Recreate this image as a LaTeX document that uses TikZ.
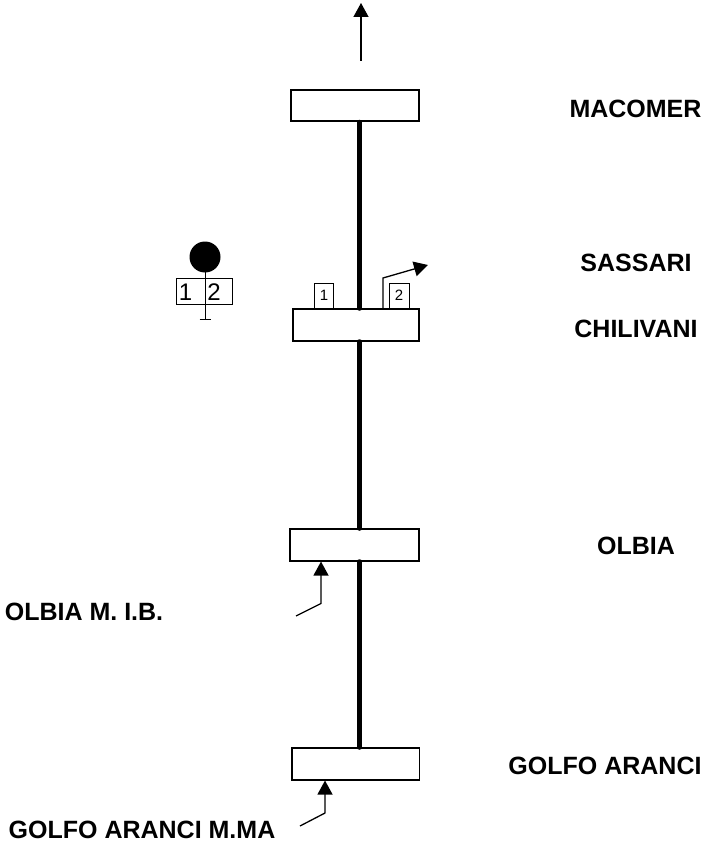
\documentclass[tikz,border=0pt]{standalone}
\usepackage{fontspec}
\setmainfont{Liberation Sans}
\usetikzlibrary{arrows.meta}
\tikzset{
  station/.style={draw,line width=1.6pt,fill=white,inner sep=0pt,minimum height=31.5pt},
  track/.style={line width=4.6pt,line cap=round},
  feed/.style={line width=1.3pt,-{Triangle[length=14pt,width=15pt]}},
  placelabel/.style={font=\bfseries\fontsize{25}{28}\selectfont,inner sep=0pt,anchor=base},
  tagbox/.style={draw,line width=.6pt,fill=white,inner sep=0pt,minimum width=19pt,minimum height=25pt,font=\fontsize{15}{17}\selectfont},
  sigbox/.style={draw,line width=.6pt,inner sep=0pt,minimum width=56.5pt,minimum height=26pt},
  sigdigit/.style={inner sep=0pt,font=\fontsize{24}{27}\selectfont}
}
\begin{document}
\begin{tikzpicture}[x=1pt,y=-1pt]
\useasboundingbox (0,0) rectangle (704,842);
\node[station,minimum width=128pt] (mac) at (355,105.5) {};
\node[station,minimum width=126.5pt] (chi) at (356,325) {};
\node[station,minimum width=129pt] (olb) at (354.5,545) {};
\node[station,minimum width=127.5pt] (gol) at (355.75,764) {};
\draw[track] ([xshift=4.5pt]mac.south) -- ([xshift=3.5pt]chi.north);
\draw[track] ([xshift=3.5pt]chi.south) -- ([xshift=5pt]olb.north);
\draw[track] ([xshift=5pt]olb.south) -- ([xshift=3.75pt]gol.north);
\coordinate (topa) at (361,61);
\coordinate (topb) at (361,3);
\draw[feed] (topa) -- (topb);
\node[tagbox,minimum width=18.5pt] (t1) at (324,295.5) {1};
\node[tagbox,minimum width=20pt] (t2) at (399,295.5) {2};
\coordinate (bra) at (383,278);
\coordinate (brb) at (428,265);
\draw[feed] (chi.north -| bra) -- (bra) -- (brb);
\coordinate (oa) at (296,616);
\coordinate (ob) at (321,603.5);
\draw[feed] (oa) -- (ob) -- (ob |- olb.south);
\coordinate (ga) at (300,826);
\coordinate (gb) at (325,813);
\draw[feed] (ga) -- (gb) -- (gb |- gol.south);
\node[circle,fill=black,inner sep=0pt,minimum size=31pt] (sig) at (205,257) {};
\node[sigbox] (sb) at (204.25,291) {};
\node[sigdigit] (d1) at (185.5,292) {1};
\node[sigdigit] (d2) at (214,292) {2};
\coordinate (foot) at (205,319);
\draw[line width=.8pt] (sig.center) -- (foot);
\draw[line width=.8pt] ([xshift=-5.5pt]foot) -- ([xshift=5.5pt]foot);
\node[placelabel] (lmac) at (635.5,118) {MACOMER};
\node[placelabel] (lsas) at (636,271) {SASSARI};
\node[placelabel] (lchi) at (636,337) {CHILIVANI};
\node[placelabel] (lolb) at (636,554) {OLBIA};
\node[placelabel] (lib) at (84,620) {OLBIA M. I.B.};
\node[placelabel] (lgol) at (605,774) {GOLFO ARANCI};
\node[placelabel] (lgm) at (142,838) {GOLFO ARANCI M.MA};
\end{tikzpicture}
\end{document}
